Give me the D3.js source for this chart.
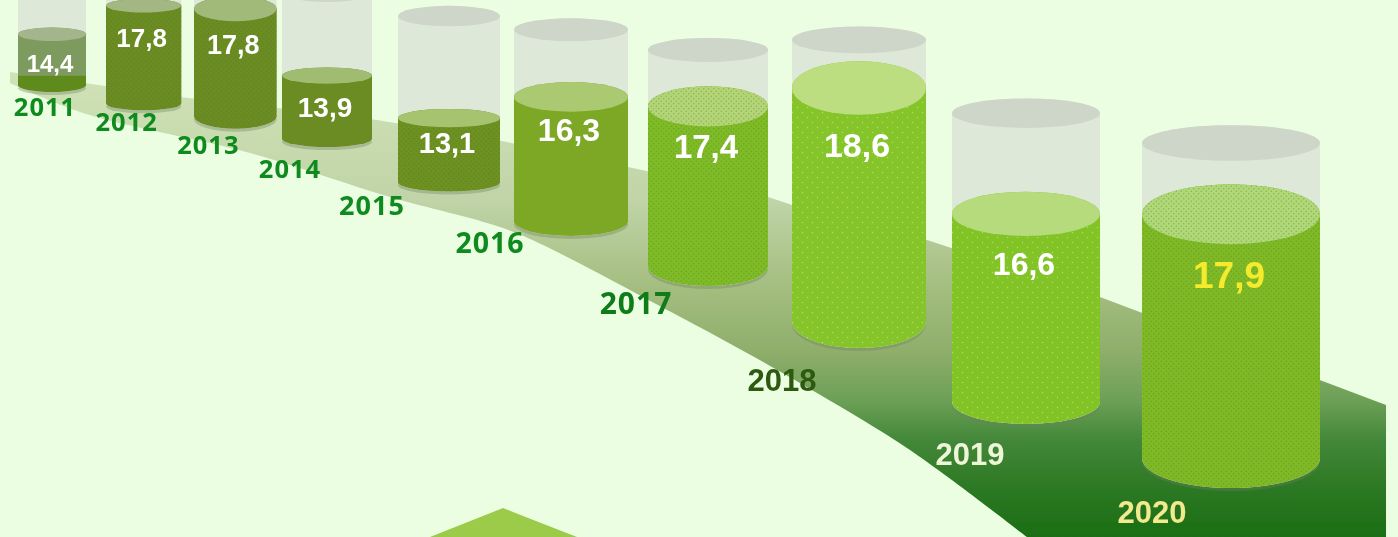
<!DOCTYPE html>
<html>
<head>
<meta charset="utf-8">
<script src="https://cdn.jsdelivr.net/npm/d3@7"></script>
<style>
    html, body { margin: 0; padding: 0; background: #ecfee2; overflow: hidden; }
    svg { display: block; }
</style>
</head>
<body>
<div id="chart"></div>
<script>
const years = [2011, 2012, 2013, 2014, 2015, 2016, 2017, 2018, 2019, 2020];
const values = [14.4, 17.8, 17.8, 13.9, 13.1, 16.3, 17.4, 18.6, 16.6, 17.9];

const width = 1398, height = 537;

// the floor runs away in perspective, so position and size come from depth scales
const depthStops = [2011, 2014, 2016, 2017, 2018, 2019, 2020];
const xScale = d3.scaleLinear().domain(depthStops).range([52, 327, 571, 708, 859, 1026, 1231]);
const baseScale = d3.scaleLinear().domain(depthStops).range([92, 147, 236, 286, 348, 424, 488]);
const sizeScale = d3.scaleLinear().domain(depthStops).range([68, 90, 114, 120, 134, 148, 178]);

// ellipse flatness, glass height and fonts, as a share of cylinder width or by year
const flatScale = d3.scaleLinear().domain(years).range([.1, .09, .15, .09, .09, .13, .167, .2, .15, .168]);
const glassScale = d3.scaleLinear().domain([2011, 2015, 2016, 2017, 2018, 2019, 2020]).range([1.6, 1.63, 1.68, 1.8, 2.1, 1.95, 1.77]);
const fillScale = d3.scaleLinear().domain([13.1, 14.4, 16.3, 16.6, 17.4, 17.8, 17.9, 18.6]).range([.63, .75, 1.09, 1.27, 1.33, 1.3, 1.37, 1.74]);
const valueFont = d3.scaleLinear().domain([2011, 2012, 2015, 2016, 2018, 2019, 2020]).range([24, 26, 29, 32, 34, 32, 37]);
const valueDrop = d3.scaleLinear().domain(years).range([6, 8, 5, 5, -4, -4, -2, 7, 6, 6]);
const labelX = d3.scaleLinear().domain([2011, 2014, 2015, 2016, 2018, 2019, 2020]).range([45, 290, 372, 490, 782, 970, 1152]);
const labelY = d3.scaleLinear().domain([2011, 2012, 2014, 2016, 2017, 2018, 2019, 2020]).range([107, 122, 169, 243, 303, 380, 454, 512]);
const labelFont = d3.scaleLinear().domain([2011, 2014, 2015, 2016, 2017, 2018, 2020]).range([25.5, 25.5, 27, 28.5, 30, 31, 31]);

const bodyColor = d3.scaleLinear().domain([2011, 2014, 2015, 2016, 2017, 2018, 2019, 2020])
    .range(["#6a8c24", "#6a8c24", "#6d9120", "#7ca828", "#7fbb28", "#86c52a", "#82c428", "#7fb927"]);
const topColor = d3.scaleLinear().domain([2011, 2014, 2016, 2018, 2020])
    .range(["#a3b58a", "#a0bc70", "#abc970", "#bcde80", "#b0d878"]);
const labelColor = d3.scaleOrdinal()
    .domain(years)
    .range(["#0e8a1e", "#0e8a1e", "#0e8a1e", "#0e8a1e", "#0e8a1e", "#0e8a1e", "#0f7c1a", "#2d5a10", "#eef6d8", "#f3e98e"]);

const floorTop = [[10, 72], [180, 97], [270, 107], [377, 120], [497, 140], [628, 167], [768, 197], [792, 205], [927, 240], [1100, 297], [1386, 405]];
const floorEdge = [[1027, 537], [910, 450], [817, 393], [747, 353], [673, 313], [543, 245], [500, 227], [390, 197], [250, 153], [83, 113], [10, 83]];

const svg = d3.select("#chart")
    .append("svg")
    .attr("width", width)
    .attr("height", height);

const defs = svg.append("defs");

const soft = defs.append("filter").attr("id", "soft");
soft.append("feGaussianBlur").attr("stdDeviation", 0.45);

const floorGrad = defs.append("linearGradient")
    .attr("id", "floorGrad")
    .attr("gradientUnits", "userSpaceOnUse")
    .attr("x1", 0).attr("x2", 0).attr("y1", 72).attr("y2", 537);
[[0, "#cfe3b6"], [.275, "#c0d4a8"], [.45, "#a6bf82"], [.6, "#8fae6b"], [.705, "#6da057"], [.79, "#44883a"], [.88, "#2f7a26"], [1, "#1a6e14"]].forEach(s => {
    floorGrad.append("stop").attr("offset", s[0]).attr("stop-color", s[1]);
});

// the first cylinder is washed out above the floor line
const firstGrad = defs.append("linearGradient")
    .attr("id", "firstGrad").attr("x1", 0).attr("x2", 0).attr("y1", 0).attr("y2", 1);
[[0, "#7e9b5e"], [.74, "#7e9b5e"], [.76, "#5f8a1e"], [1, "#5f8a1e"]].forEach(s => {
    firstGrad.append("stop").attr("offset", s[0]).attr("stop-color", s[1]);
});

function dotPattern(id, size, color, opacity) {
    const p = defs.append("pattern")
        .attr("id", id)
        .attr("patternUnits", "userSpaceOnUse")
        .attr("width", size).attr("height", size);
    [[size / 4, size / 4], [size * 3 / 4, size * 3 / 4]].forEach(d => {
        p.append("circle").attr("cx", d[0]).attr("cy", d[1]).attr("r", .7)
            .attr("fill", color).attr("opacity", opacity);
    });
}
dotPattern("dotsLight", 10, "#d8f0a0", .55);
dotPattern("dotsDark", 5, "#4f8a1a", .5);
dotPattern("dotsDeep", 5, "#4d6e14", .4);

const dotFill = { 2012: "url(#dotsDeep)", 2013: "url(#dotsDeep)", 2015: "url(#dotsDeep)", 2017: "url(#dotsDark)", 2018: "url(#dotsLight)", 2019: "url(#dotsLight)", 2020: "url(#dotsDark)" };

const g = svg.append("g").attr("filter", "url(#soft)");

const floorLine = d3.line();
const floorCurve = d3.line().curve(d3.curveCatmullRom);
g.append("path")
    .attr("d", floorLine(floorTop) + "L1386,537L1027,537" + floorCurve(floorEdge).replace(/^M[^CLc]*/, "") + "Z")
    .attr("fill", "url(#floorGrad)");

// corner of the next element down the page
g.append("path")
    .attr("d", "M430,537L503,508L577,537Z")
    .attr("fill", "#9ccb4a");

const dataset = years.map((year, i) => {
    const w = sizeScale(year);
    const ry = w * flatScale(year);
    const base = baseScale(year) - ry;
    return {
        year,
        value: values[i],
        cx: xScale(year),
        w,
        ry,
        glassRy: w * .1,
        base,
        top: base - fillScale(values[i]) * w,
        glass: base - glassScale(year) * w
    };
});

function tube(d, top, topRy) {
    const r = d.w / 2;
    return `M${d.cx - r},${top}L${d.cx - r},${d.base}A${r},${d.ry} 0 0 0 ${d.cx + r},${d.base}L${d.cx + r},${top}A${r},${topRy} 0 0 0 ${d.cx - r},${top}Z`;
}

const cyl = g.selectAll(".cyl")
    .data(dataset)
    .enter()
    .append("g")
    .attr("class", "cyl");

cyl.append("ellipse")
    .attr("cx", d => d.cx)
    .attr("cy", d => d.base + 3)
    .attr("rx", d => d.w / 2)
    .attr("ry", d => d.ry)
    .attr("fill", "#6f7f62")
    .attr("opacity", .35);

cyl.append("path")
    .attr("d", d => tube(d, d.glass, d.glassRy))
    .attr("fill", "#dde8d8");

cyl.append("ellipse")
    .attr("cx", d => d.cx)
    .attr("cy", d => d.glass)
    .attr("rx", d => d.w / 2)
    .attr("ry", d => d.glassRy)
    .attr("fill", "#cdd6c8");

cyl.append("path")
    .attr("d", d => tube(d, d.top, d.ry))
    .attr("fill", d => d.year === 2011 ? "url(#firstGrad)" : bodyColor(d.year));

cyl.filter(d => dotFill[d.year]).append("path")
    .attr("d", d => tube(d, d.top, d.ry))
    .attr("fill", d => dotFill[d.year]);

cyl.append("ellipse")
    .attr("cx", d => d.cx)
    .attr("cy", d => d.top)
    .attr("rx", d => d.w / 2)
    .attr("ry", d => d.ry)
    .attr("fill", d => topColor(d.year));

cyl.filter(d => d.year === 2017 || d.year === 2020).append("ellipse")
    .attr("cx", d => d.cx)
    .attr("cy", d => d.top)
    .attr("rx", d => d.w / 2)
    .attr("ry", d => d.ry)
    .attr("fill", "url(#dotsDark)");

const t = svg.append("g");

t.selectAll(".value")
    .data(dataset)
    .enter()
    .append("text")
    .attr("class", "value")
    .attr("x", d => d.cx - 2)
    .attr("y", d => d.top + d.ry + valueFont(d.year) * .68 + valueDrop(d.year))
    .attr("dy", "0.35em")
    .attr("text-anchor", "middle")
    .style("font-family", "'Liberation Sans', Arial, sans-serif")
    .style("font-weight", "bold")
    .style("font-size", d => valueFont(d.year) + "px")
    .style("fill", d => d.year === 2020 ? "#f6ea2c" : "#fff")
    .text(d => d3.format(".1f")(d.value).replace(".", ","));

t.selectAll(".year")
    .data(dataset)
    .enter()
    .append("text")
    .attr("class", "year")
    .attr("x", d => labelX(d.year))
    .attr("y", d => labelY(d.year))
    .attr("dy", "0.35em")
    .attr("text-anchor", "middle")
    .style("font-family", d => d.year < 2018 ? "'Open Sans', sans-serif" : "'Liberation Sans', Arial, sans-serif")
    .style("font-weight", "bold")
    .style("letter-spacing", d => d.year < 2018 ? "1px" : "0")
    .style("font-size", d => labelFont(d.year) + "px")
    .style("fill", d => labelColor(d.year))
    .text(d => d.year);
</script>
</body>
</html>
